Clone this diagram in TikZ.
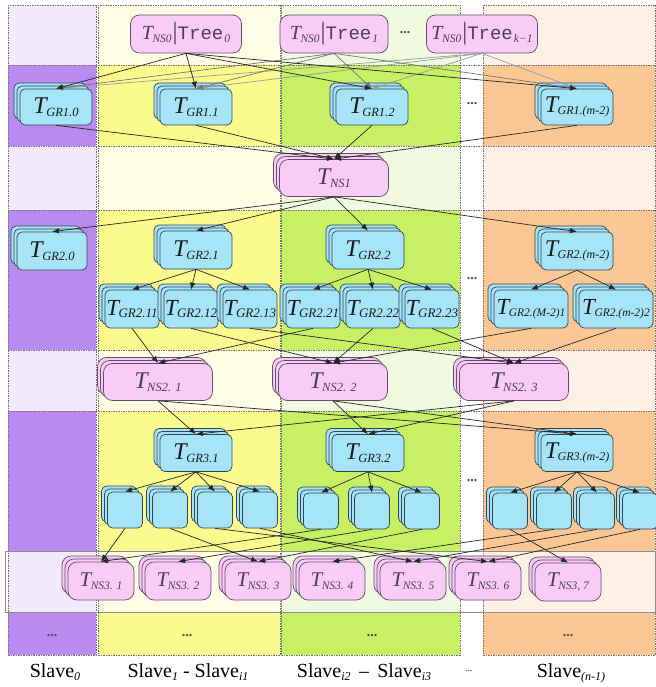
\documentclass[tikz,border=0pt]{standalone}
\usepackage{fontspec}
\setmainfont{Liberation Serif}
\newfontfamily\monof{Liberation Mono}
\usetikzlibrary{shadows,arrows.meta}

% band colours: S = saturated row, L = light row
\definecolor{pS}{HTML}{B98AF0}
\definecolor{pL}{HTML}{F3EBFC}
\definecolor{yS}{HTML}{FAFA8E}
\definecolor{yL}{HTML}{FDFDE6}
\definecolor{gS}{HTML}{C8F064}
\definecolor{gL}{HTML}{F1F9E0}
\definecolor{oS}{HTML}{FBC895}
\definecolor{oL}{HTML}{FDF0E4}
\definecolor{cyanf}{HTML}{A6E4F8}
\definecolor{cyanedge}{HTML}{34444C}
\definecolor{pinkf}{HTML}{F9CCF7}
\definecolor{pinkedge}{HTML}{5E4E66}
\definecolor{nstext}{HTML}{4B3D5C}

% task label: big italic T with a smaller italic index
\newcommand\TT[3]{{\fontsize{#1}{#1}\selectfont\itshape T}\kern-0.5pt\raisebox{-2.5pt}{\fontsize{#2}{#2}\selectfont\itshape #3}}
\newcommand\treelab[1]{\TT{20}{11.5}{NS0}\kern1pt{\fontsize{25}{25}\selectfont|}{\monof\fontsize{19}{19}\selectfont Tree}\kern1pt\raisebox{-3pt}{\fontsize{11.5}{11.5}\selectfont\itshape #1}}
\newcommand\slavesub[1]{\raisebox{-3pt}{\fontsize{12}{12}\selectfont\itshape #1}}

\tikzset{
  grid/.style={draw=black!55, line width=0.6pt, dash pattern=on 1.5pt off 1pt},
  grn/.style={draw=cyanedge, fill=cyanf, rounded corners=5pt, line width=0.7pt,
    inner sep=0pt, text=black!90},
  stacked/.style={double copy shadow={shadow xshift=-3pt, shadow yshift=3pt}},
  grbig/.style={grn, stacked, minimum width=72pt, minimum height=36pt},
  grsub/.style={grn, stacked, minimum width=54pt, minimum height=38pt},
  grsubw/.style={grn, stacked, minimum width=74pt, minimum height=38pt},
  grempty/.style={grn, stacked, minimum width=35pt, minimum height=36pt},
  nsn/.style={draw=pinkedge, fill=pinkf, rounded corners=9pt, line width=0.7pt,
    inner sep=0pt, text=nstext},
  topn/.style={nsn, minimum width=111pt, minimum height=38pt},
  nsbig/.style={nsn, stacked, minimum width=109pt, minimum height=37pt},
  nssmall/.style={nsn, stacked, minimum width=66pt, minimum height=38pt},
  arr/.style={-{Latex[length=7pt,width=5.5pt]}, line width=0.7pt, draw=black!85},
  arrg/.style={arr, draw=black!55},
  arrl/.style={arr, draw=black!40},
  dots/.style={font=\fontsize{14}{14}\selectfont\bfseries, text=black!70},
  slave/.style={font=\fontsize{20}{20}\selectfont, anchor=base},
}

\begin{document}
\begin{tikzpicture}[x=1pt,y=-1pt]
\useasboundingbox (0,0) rectangle (655,687);

% ---- swim-lane background: one column per group of slaves ----
\foreach \xa/\xb/\c in {8/96/p,98/280/y,281/460/g,483/655/o}{
  \foreach \ya/\yb in {5/65,146/210,350/411,551/612}
    \fill[fill=\c L] (\xa,\ya) rectangle (\xb,\yb);
  \foreach \ya/\yb in {65/146,210/350,411/551,612/655}
    \fill[fill=\c S] (\xa,\ya) rectangle (\xb,\yb);
  \draw[grid] (\xa,5) rectangle (\xb,655);
}
\foreach \y in {65,146,210,350,411,612}
  \draw[grid] (8,\y) -- (655,\y);
\draw[black!45, line width=0.8pt] (5,551) rectangle (655,612);

% ---- level 0: partitioned trees ----
\node[topn] (t0) at (186,34) {\treelab{0}};
\node[topn, minimum width=108pt] (t1) at (334,34) {\treelab{1}};
\node[dots] (tdots) at (405,33) {...};
\node[topn] (tk) at (482,34) {\treelab{k−1}};

% ---- level 1 ----
\node[grbig] (g10) at (56,107) {\TT{24}{12.5}{GR1.0}};
\node[grbig] (g11) at (196,107) {\TT{24}{12.5}{GR1.1}};
\node[grbig] (g12) at (372,107) {\TT{24}{12.5}{GR1.2}};
\node[dots] (d1) at (472,104) {...};
\node[grbig] (g1m) at (577,107) {\TT{24}{12}{GR1.(m-2)}};

\node[nsbig] (ns1) at (334,178) {\TT{24}{12.5}{NS1}};

% ---- level 2 ----
\node[grbig, minimum width=70pt, minimum height=38pt] (g20) at (52,251) {\TT{24}{12.5}{GR2.0}};
\node[grbig, minimum height=38pt] (g21) at (196,250) {\TT{24}{12.5}{GR2.1}};
\node[grbig, minimum height=38pt] (g22) at (368,250) {\TT{24}{12.5}{GR2.2}};
\node[dots] (d2) at (472,279) {...};
\node[grbig, minimum height=38pt] (g2m) at (577,251) {\TT{24}{12}{GR2.(m-2)}};

\node[grsub] (g211) at (132,309) {\TT{23}{13}{GR2.11}};
\node[grsub] (g212) at (191,309) {\TT{23}{13}{GR2.12}};
\node[grsub] (g213) at (250,309) {\TT{23}{13}{GR2.13}};
\node[grsub] (g221) at (313,309) {\TT{23}{13}{GR2.21}};
\node[grsub] (g222) at (373,309) {\TT{23}{13}{GR2.22}};
\node[grsub] (g223) at (432,309) {\TT{23}{13}{GR2.23}};
\node[grsubw] (g2m1) at (531,309) {\TT{23}{11.5}{GR2.(M-2)1}};
\node[grsubw] (g2m2) at (616,309) {\TT{23}{11.5}{GR2.(m-2)2}};

\node[nsbig] (ns21) at (158,382) {\TT{24}{12.5}{NS2. 1}};
\node[nsbig] (ns22) at (333,382) {\TT{24}{12.5}{NS2. 2}};
\node[nsbig] (ns23) at (514,382) {\TT{24}{12.5}{NS2. 3}};

% ---- level 3 ----
\node[grbig, minimum height=37pt] (g31) at (196,453) {\TT{24}{12.5}{GR3.1}};
\node[grbig, minimum height=37pt] (g32) at (368,453) {\TT{24}{12.5}{GR3.2}};
\node[dots] (d3) at (472,481) {...};
\node[grbig, minimum height=37pt] (g3m) at (577,453) {\TT{24}{12}{GR3.(m-2)}};

\node[grempty] (y1) at (125,510) {};
\node[grempty] (y2) at (170,510) {};
\node[grempty] (y3) at (215,510) {};
\node[grempty] (y4) at (260,510) {};
\node[grempty] (q1) at (321,511) {};
\node[grempty] (q2) at (372,511) {};
\node[grempty] (q3) at (422,511) {};
\node[grempty] (o1) at (510,511) {};
\node[grempty] (o2) at (554,511) {};
\node[grempty] (o3) at (597,511) {};
\node[grempty] (o4) at (640,511) {};

\node[nssmall] (ns31) at (101,581) {\TT{21}{11.5}{NS3. 1}};
\node[nssmall] (ns32) at (178,581) {\TT{21}{11.5}{NS3. 2}};
\node[nssmall] (ns33) at (258,581) {\TT{21}{11.5}{NS3. 3}};
\node[nssmall] (ns34) at (332,581) {\TT{21}{11.5}{NS3. 4}};
\node[nssmall] (ns35) at (413,581) {\TT{21}{11.5}{NS3. 5}};
\node[nssmall] (ns36) at (488,581) {\TT{21}{11.5}{NS3. 6}};
\node[nssmall] (ns37) at (568,582) {\TT{21}{11.5}{NS3, 7}};

% ---- bottom row ----
\node[dots] (b0) at (52,636) {...};
\node[dots] (b1) at (187,636) {...};
\node[dots] (b2) at (372,636) {...};
\node[dots] (b3) at (568,636) {...};

\node[slave] (s0) at (55,677) {Slave\slavesub{0}};
\node[slave] (s1) at (188,677) {Slave\slavesub{1} - Slave\slavesub{i1}};
\node[slave] (s2) at (364,677) {Slave\slavesub{i2} \,–\, Slave\slavesub{i3}};
\node[font=\fontsize{9}{9}\selectfont] (sd) at (469,671) {...};
\node[slave] (s3) at (571,677) {Slave\slavesub{(n-1)}};

% ---- connectors ----
\foreach \t in {g10,g11,g12,g1m} {
  \draw[arrl] (tk.south) -- (\t.north);
  \draw[arrg] (t1.south) -- (\t.north);
  \draw[arr] (t0.south) -- (\t.north);
  \draw[arr] (\t.south) -- (ns1.north);
}
\foreach \t in {g20,g21,g22,g2m}
  \draw[arr] (ns1.south) -- (\t.north);
\foreach \t in {g211,g212,g213} \draw[arr] (g21.south) -- (\t.north);
\foreach \t in {g221,g222,g223} \draw[arr] (g22.south) -- (\t.north);
\foreach \t in {g2m1,g2m2} \draw[arr] (g2m.south) -- (\t.north);

\foreach \s/\t in {g211/ns21,g221/ns21,g212/ns22,g222/ns22,g2m1/ns22,
                   g213/ns23,g223/ns23,g2m2/ns23}
  \draw[arr] (\s.south) -- (\t.north);

\foreach \s/\t in {ns21/g31,ns21/g3m,ns22/g32,ns22/g3m,ns23/g31,ns23/g32}
  \draw[arr] (\s.south) -- (\t.north);

\foreach \t in {y1,y2,y3,y4} \draw[arr] (g31.south) -- (\t.north);
\foreach \t in {q1,q2,q3} \draw[arr] (g32.south) -- (\t.north);
\foreach \t in {o1,o2,o3,o4} \draw[arr] (g3m.south) -- (\t.north);

\foreach \s/\t in {y1/ns31,y2/ns33,y3/ns36,y4/ns35,q1/ns31,q2/ns32,q3/ns33,
                   o1/ns37,o2/ns34,o3/ns35,o4/ns36}
  \draw[arr] (\s.south) -- (\t.north);
\end{tikzpicture}
\end{document}
